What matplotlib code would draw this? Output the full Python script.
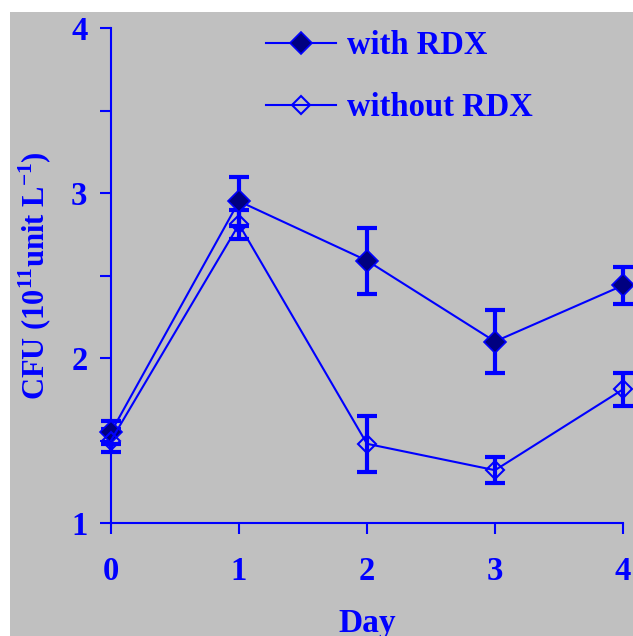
import matplotlib
matplotlib.use("Agg")
import matplotlib.pyplot as plt
from matplotlib.patches import Rectangle

days = [0, 1, 2, 3, 4]
with_rdx = [1.55, 2.95, 2.59, 2.10, 2.44]
with_rdx_err = [0.07, 0.15, 0.20, 0.19, 0.11]
without_rdx = [1.50, 2.81, 1.48, 1.32, 1.81]
without_rdx_err = [0.07, 0.09, 0.17, 0.08, 0.10]
xticks = [0, 1, 2, 3, 4]
yticks = [1, 1.5, 2, 2.5, 3, 3.5, 4]
ytick_labels = ["1", "", "2", "", "3", "", "4"]

BLUE = "#0000ff"
NAVY = "#000080"
GRAY = "#c0c0c0"

plt.rcParams["font.family"] = ["Liberation Serif", "DejaVu Serif"]
plt.rcParams["font.weight"] = "bold"
plt.rcParams["mathtext.fontset"] = "custom"
plt.rcParams["mathtext.rm"] = "Liberation Serif:bold"
plt.rcParams["mathtext.bf"] = "Liberation Serif:bold"

W, H = 633, 636
fig = plt.figure(figsize=(W / 100, H / 100), dpi=100, facecolor="white")
fig.patches.append(Rectangle((10 / W, 0), 1, 1 - 12 / H, transform=fig.transFigure,
                             facecolor=GRAY, edgecolor="none", zorder=-10))

ax = fig.add_axes([111 / W, 1 - 523 / H, 512 / W, 495 / H])
ax.set_facecolor("none")

ax.errorbar(days, with_rdx, yerr=with_rdx_err, fmt="none", ecolor=BLUE,
            elinewidth=3, capsize=7.5, capthick=3, clip_on=False, zorder=3)
ax.errorbar(days, without_rdx, yerr=without_rdx_err, fmt="none", ecolor=BLUE,
            elinewidth=3, capsize=7.5, capthick=3, clip_on=False, zorder=3)
ax.plot(days, with_rdx, color=BLUE, lw=1.5, marker="D", ms=11, mfc=NAVY,
        mec=BLUE, mew=1.2, clip_on=False, zorder=4, label="with RDX")
ax.plot(days, without_rdx, color=BLUE, lw=1.5, marker="D", ms=9.5, mfc="none",
        mec=BLUE, mew=1.5, clip_on=False, zorder=4, label="without RDX")

ax.set_xlim(0, 4)
ax.set_ylim(1, 4)
ax.set_xticks(xticks)
ax.set_xticklabels([str(t) for t in xticks])
ax.set_yticks(yticks)
ax.set_yticklabels(ytick_labels)

for s in ["top", "right"]:
    ax.spines[s].set_visible(False)
for s in ["left", "bottom"]:
    ax.spines[s].set_color(BLUE)
    ax.spines[s].set_linewidth(1.5)

ax.tick_params(axis="both", colors=BLUE, direction="out", width=1.5, length=8,
               labelsize=23.5)
ax.tick_params(axis="x", pad=16)
ax.tick_params(axis="y", pad=9)
for lab in ax.get_xticklabels() + ax.get_yticklabels():
    lab.set_fontweight("bold")

ax.set_xlabel("Day", fontsize=24, color=BLUE, fontweight="bold", labelpad=15)
ax.set_ylabel(r"CFU (10$^{11}$unit L$^{-1}$)", fontsize=22, color=BLUE,
              fontweight="bold", labelpad=12)

leg = ax.legend(loc="upper left", bbox_to_anchor=(0.303, 0.995), frameon=False,
                fontsize=23.5, handlelength=2.15, handletextpad=0.34,
                labelspacing=0.94, borderpad=0, borderaxespad=0)
for t in leg.get_texts():
    t.set_color(BLUE)
    t.set_fontweight("bold")

fig.savefig("out.png", dpi=100, facecolor="white")
